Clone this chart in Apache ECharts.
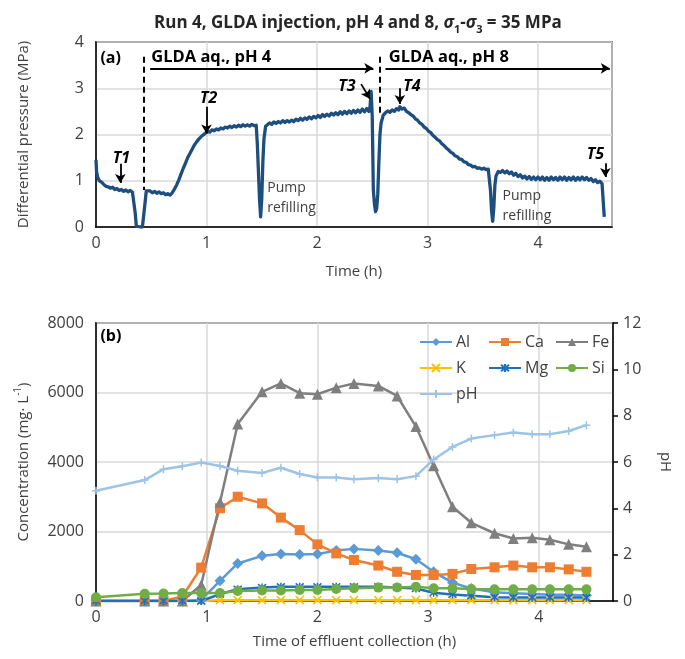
<!DOCTYPE html>
<html>
<head>
<meta charset="utf-8">
<script src="https://cdn.jsdelivr.net/npm/echarts@6/dist/echarts.min.js"></script>
<style>
  html, body { margin: 0; padding: 0; background: #fff; }
  #chart { width: 685px; height: 659px; }
</style>
</head>
<body>
<div id="chart"></div>
<script>
// ---- (a) differential pressure record ----
const pressureTime = [
  0.000, 0.005, 0.015, 0.03, 0.05, 0.07, 0.09, 0.11, 0.13, 0.15, 0.17, 0.19, 0.21, 0.23, 0.25, 0.27, 0.29, 0.31, 0.33, 0.345,
  0.355, 0.365, 0.38, 0.40, 0.42, 0.435, 0.445, 0.455, 0.47, 0.49, 0.51, 0.53, 0.55, 0.57, 0.59, 0.61, 0.63, 0.65, 0.67, 0.69,
  0.71, 0.73, 0.75, 0.77, 0.79, 0.81, 0.83, 0.85, 0.87, 0.89, 0.91, 0.93, 0.95, 0.97, 0.99, 1.01, 1.03, 1.05, 1.07, 1.09,
  1.11, 1.13, 1.15, 1.17, 1.19, 1.21, 1.23, 1.25, 1.27, 1.29, 1.31, 1.33, 1.35, 1.37, 1.39, 1.41, 1.43, 1.45, 1.46, 1.47,
  1.48, 1.49, 1.50, 1.51, 1.52, 1.535, 1.55, 1.57, 1.59, 1.61, 1.63, 1.65, 1.67, 1.69, 1.71, 1.73, 1.75, 1.77, 1.79, 1.81,
  1.83, 1.85, 1.87, 1.89, 1.91, 1.93, 1.95, 1.97, 1.99, 2.01, 2.03, 2.05, 2.07, 2.09, 2.11, 2.13, 2.15, 2.17, 2.19, 2.21,
  2.23, 2.25, 2.27, 2.29, 2.31, 2.33, 2.35, 2.37, 2.39, 2.41, 2.43, 2.45, 2.47, 2.48, 2.49, 2.50, 2.51, 2.52, 2.53, 2.54,
  2.55, 2.56, 2.57, 2.58, 2.60, 2.62, 2.64, 2.66, 2.68, 2.70, 2.72, 2.74, 2.75, 2.77, 2.79, 2.81, 2.83, 2.85, 2.87, 2.89,
  2.91, 2.93, 2.95, 2.97, 2.99, 3.01, 3.03, 3.05, 3.07, 3.09, 3.11, 3.13, 3.15, 3.17, 3.19, 3.21, 3.23, 3.25, 3.27, 3.29,
  3.31, 3.33, 3.35, 3.37, 3.39, 3.41, 3.43, 3.45, 3.47, 3.49, 3.51, 3.53, 3.55, 3.56, 3.57, 3.58, 3.59, 3.60, 3.61, 3.62,
  3.64, 3.66, 3.68, 3.70, 3.72, 3.74, 3.76, 3.78, 3.80, 3.82, 3.84, 3.86, 3.88, 3.90, 3.92, 3.94, 3.96, 3.98, 4.00, 4.02,
  4.04, 4.06, 4.08, 4.10, 4.12, 4.14, 4.16, 4.18, 4.20, 4.22, 4.24, 4.26, 4.28, 4.30, 4.32, 4.34, 4.36, 4.38, 4.40, 4.42,
  4.44, 4.46, 4.48, 4.50, 4.52, 4.54, 4.56, 4.58, 4.59, 4.60
];
const pressureMPa = [
  1.45, 1.20, 1.08, 1.00, 0.97, 0.92, 0.88, 0.87, 0.84, 0.86, 0.81, 0.83, 0.79, 0.81, 0.77, 0.80, 0.76, 0.79, 0.75, 0.77,
  0.30, 0.02, 0.00, 0.00, 0.00, 0.02, 0.55, 0.78, 0.74, 0.78, 0.74, 0.77, 0.73, 0.76, 0.72, 0.74, 0.70, 0.72, 0.69, 0.74,
  0.82, 0.91, 1.02, 1.15, 1.27, 1.38, 1.50, 1.59, 1.68, 1.77, 1.84, 1.90, 1.95, 1.99, 2.03, 2.06, 2.05, 2.10, 2.08, 2.12,
  2.10, 2.14, 2.12, 2.16, 2.14, 2.18, 2.15, 2.19, 2.16, 2.20, 2.17, 2.21, 2.18, 2.21, 2.18, 2.22, 2.19, 2.20, 1.80, 1.20,
  0.60, 0.22, 0.60, 1.40, 1.90, 2.18, 2.22, 2.25, 2.22, 2.27, 2.24, 2.28, 2.25, 2.30, 2.26, 2.30, 2.27, 2.31, 2.28, 2.33,
  2.30, 2.35, 2.31, 2.36, 2.33, 2.38, 2.34, 2.39, 2.36, 2.41, 2.37, 2.43, 2.39, 2.44, 2.40, 2.46, 2.42, 2.47, 2.43, 2.49,
  2.44, 2.50, 2.45, 2.51, 2.46, 2.52, 2.47, 2.53, 2.48, 2.55, 2.49, 2.56, 2.50, 2.60, 2.93, 2.40, 0.80, 0.50, 0.33, 0.40,
  0.70, 1.40, 2.00, 2.25, 2.42, 2.47, 2.51, 2.48, 2.53, 2.50, 2.56, 2.53, 2.60, 2.55, 2.57, 2.50, 2.47, 2.43, 2.40, 2.34,
  2.31, 2.25, 2.22, 2.16, 2.13, 2.07, 2.04, 1.98, 1.94, 1.89, 1.86, 1.80, 1.76, 1.71, 1.67, 1.62, 1.59, 1.54, 1.52, 1.47,
  1.46, 1.41, 1.40, 1.35, 1.34, 1.30, 1.31, 1.27, 1.28, 1.25, 1.27, 1.24, 1.25, 1.22, 0.80, 0.35, 0.12, 0.40, 0.90, 1.10,
  1.20, 1.18, 1.22, 1.17, 1.21, 1.15, 1.19, 1.12, 1.16, 1.09, 1.13, 1.06, 1.10, 1.04, 1.09, 1.03, 1.08, 1.02, 1.08, 1.02,
  1.08, 1.01, 1.07, 1.01, 1.08, 1.02, 1.07, 1.01, 1.08, 1.02, 1.08, 1.01, 1.07, 1.02, 1.08, 1.01, 1.07, 1.02, 1.08, 1.02,
  1.07, 1.01, 1.05, 0.98, 1.02, 0.96, 0.99, 0.94, 0.96, 0.22
];

// ---- (b) effluent composition ----
const sampleTime = [0, 0.44, 0.61, 0.78, 0.95, 1.12, 1.28, 1.50, 1.67, 1.84, 2.00, 2.17, 2.33,
                    2.55, 2.72, 2.89, 3.05, 3.22, 3.39, 3.60, 3.77, 3.94, 4.10, 4.27, 4.43];
const alConc = [0, 0, 0, 0, 30, 580, 1080, 1300, 1350, 1340, 1350, 1450, 1500,
                1450, 1390, 1200, 840, 530, 360, 250, 220, 200, 180, 180, 160];
const caConc = [0, 0, 0, 130, 960, 2670, 3000, 2810, 2400, 2040, 1630, 1370, 1180,
                1020, 840, 750, 750, 780, 920, 970, 1020, 970, 970, 910, 840];
const feConc = [0, 0, 0, 0, 460, 2840, 5090, 6020, 6260, 5980, 5950, 6140, 6260,
                6190, 5900, 5020, 3890, 2710, 2250, 1950, 1800, 1820, 1760, 1630, 1560];
const kConc  = [0, 0, 0, 0, 0, 25, 25, 25, 25, 25, 25, 25, 25,
                25, 25, 25, 25, 25, 25, 25, 25, 25, 25, 25, 25];
const mgConc = [0, 0, 0, 0, 0, 200, 340, 390, 410, 410, 410, 410, 410,
                410, 390, 360, 240, 190, 150, 110, 100, 100, 100, 100, 100];
const siConc = [110, 210, 215, 230, 230, 230, 290, 300, 300, 315, 315, 345, 365,
                385, 390, 410, 365, 365, 345, 335, 335, 335, 335, 335, 335];
const phValue = [4.76, 5.22, 5.69, 5.82, 5.98, 5.83, 5.62, 5.53, 5.75, 5.48, 5.33, 5.33, 5.26,
                 5.31, 5.26, 5.39, 6.11, 6.65, 7.01, 7.16, 7.27, 7.20, 7.20, 7.34, 7.59];

const concTicks = [0, 2000, 4000, 6000, 8000];
const phTicks = [0, 2, 4, 6, 8, 10, 12];
const pressureTicks = [0, 1, 2, 3, 4];
const timeTicks = [0, 1, 2, 3, 4];

const FONT = 'Open Sans';
const TXT = '#404040';
const GRIDLINE = '#d9d9d9';
const TICK_SIZE = 16;

const zip = (xs, ys) => xs.map((x, i) => [x, ys[i]]);

const chart = echarts.init(document.getElementById('chart'), null, { renderer: 'canvas' });

const xAxisBase = (gridIndex, name, gap) => ({
  type: 'value', gridIndex, min: timeTicks[0], max: 4.67, interval: 1,
  name, nameLocation: 'middle', nameGap: gap,
  nameTextStyle: { fontFamily: FONT, fontSize: 15, color: TXT },
  axisLine: { show: true, onZero: false, lineStyle: { color: '#000', width: 1.5 } },
  axisTick: { show: false },
  axisLabel: { fontFamily: FONT, fontSize: TICK_SIZE, color: TXT, margin: 8, showMaxLabel: false,
               formatter: v => (timeTicks.indexOf(v) >= 0 ? String(v) : '') },
  splitLine: { show: true, lineStyle: { color: GRIDLINE, width: 1.5 } }
});

const lineSeries = (name, values, color, symbol, size, extra) => Object.assign({
  name, type: 'line', xAxisIndex: 1, yAxisIndex: 1,
  data: zip(sampleTime, values),
  symbol, symbolSize: size, showSymbol: true,
  lineStyle: { color, width: 2.5 },
  itemStyle: { color },
  emphasis: { disabled: true }
}, extra || {});

const strokeSymbol = (color) => ({ color: 'rgba(0,0,0,0)', borderColor: color, borderWidth: 1.5 });

const SYM_X = 'path://M0,0L10,10M10,0L0,10';
const SYM_STAR = 'path://M0,0L10,10M10,0L0,10M5,-1L5,11';
const SYM_PLUS = 'path://M5,0L5,10M0,5L10,5';

const arrow = (a, b) => [
  { coord: a, symbol: 'none' },
  { coord: b, symbol: 'arrow', symbolSize: [8, 9] }
];
const dashed = (a, b) => [
  { coord: a, symbol: 'none', lineStyle: { type: [6, 4], width: 2, color: '#000' } },
  { coord: b, symbol: 'none' }
];

const legendItem = (name, left, top) => ({
  data: [name], left, top, itemWidth: 32, itemHeight: 10, itemGap: 0,
  textStyle: { fontFamily: FONT, fontSize: 16, color: TXT, padding: [0, 0, 0, -1] },
  selectedMode: false
});

const option = {
  animation: false,
  backgroundColor: '#fff',
  title: {
    left: 149, top: 6,
    text: '{b|Run 4, GLDA injection, pH 4 and 8, }{i|σ}{s|1}{b|-}{i|σ}{s|3}{b| = 35 MPa}',
    textStyle: {
      rich: {
        b: { fontFamily: FONT, fontSize: 17, fontWeight: 'bold', color: '#262626', lineHeight: 24, verticalAlign: 'middle' },
        i: { fontFamily: FONT, fontSize: 17, fontStyle: 'italic', color: '#262626', lineHeight: 24, verticalAlign: 'middle' },
        s: { fontFamily: FONT, fontSize: 11, fontWeight: 'bold', color: '#262626', lineHeight: 13, verticalAlign: 'bottom' }
      }
    }
  },
  grid: [
    { left: 96, right: 73, top: 42, height: 185, show: true, borderColor: '#000', borderWidth: 1.5, backgroundColor: 'transparent' },
    { left: 96, right: 72, top: 323, height: 278, show: true, borderColor: '#000', borderWidth: 1.5, backgroundColor: 'transparent' }
  ],
  xAxis: [
    xAxisBase(0, 'Time (h)', 37),
    xAxisBase(1, 'Time of effluent collection (h)', 33)
  ],
  yAxis: [
    {
      type: 'value', gridIndex: 0, min: pressureTicks[0], max: pressureTicks[pressureTicks.length - 1], interval: 1,
      name: 'Differential pressure (MPa)', nameLocation: 'middle', nameGap: 65,
      nameTextStyle: { fontFamily: FONT, fontSize: 15, color: TXT },
      axisLine: { show: true, lineStyle: { color: '#000', width: 1.5 } },
      axisTick: { show: false },
      axisLabel: { fontFamily: FONT, fontSize: TICK_SIZE, color: TXT, margin: 12 },
      splitLine: { show: true, lineStyle: { color: GRIDLINE, width: 1.5 } }
    },
    {
      type: 'value', gridIndex: 1, min: concTicks[0], max: concTicks[concTicks.length - 1], interval: 2000,
      name: 'Concentration (mg· L{sup|-1})', nameLocation: 'middle', nameGap: 61,
      nameTextStyle: { fontFamily: FONT, fontSize: 15, color: TXT,
        rich: { sup: { fontFamily: FONT, fontSize: 10, color: TXT, verticalAlign: 'top', lineHeight: 22 } } },
      axisLine: { show: true, lineStyle: { color: '#000', width: 1.5 } },
      axisTick: { show: false },
      axisLabel: { fontFamily: FONT, fontSize: TICK_SIZE, color: TXT, margin: 12, formatter: v => String(v) },
      splitLine: { show: true, lineStyle: { color: GRIDLINE, width: 1.5 } }
    },
    {
      type: 'value', gridIndex: 1, position: 'right', min: phTicks[0], max: phTicks[phTicks.length - 1], interval: 2,
      name: 'pH', nameLocation: 'middle', nameGap: 45, nameRotate: -90,
      nameTextStyle: { fontFamily: FONT, fontSize: 15, color: TXT },
      axisLine: { show: true, lineStyle: { color: '#000', width: 1.5 } },
      axisTick: { show: true, inside: false, length: 5, lineStyle: { color: '#000', width: 1.5 } },
      axisLabel: { fontFamily: FONT, fontSize: TICK_SIZE, color: TXT, margin: 10 },
      splitLine: { show: false }
    }
  ],
  legend: [
    legendItem('Al', 414, 329), legendItem('Ca', 483, 329), legendItem('Fe', 550, 329),
    legendItem('K', 414, 355), legendItem('Mg', 483, 355), legendItem('Si', 550, 355),
    legendItem('pH', 414, 381)
  ],
  series: [
    {
      name: 'Differential pressure', type: 'line', xAxisIndex: 0, yAxisIndex: 0,
      data: zip(pressureTime, pressureMPa),
      showSymbol: false, symbol: 'none',
      lineStyle: { color: '#1d4e7d', width: 3.3, join: 'round' },
      emphasis: { disabled: true },
      markLine: {
        silent: true, animation: false,
        label: { show: false },
        lineStyle: { color: '#000', width: 1.8, type: 'solid' },
        emphasis: { disabled: true },
        data: [
          dashed([0.434, 3.68], [0.434, 0.80]),
          dashed([2.564, 3.68], [2.564, 2.45]),
          arrow([0.49, 3.43], [2.51, 3.43]),
          arrow([2.62, 3.43], [4.65, 3.43]),
          arrow([0.22, 1.37], [0.22, 0.95]),
          arrow([1.00, 2.60], [1.00, 2.02]),
          arrow([2.40, 3.09], [2.48, 2.77]),
          arrow([2.75, 3.00], [2.75, 2.66]),
          arrow([4.61, 1.38], [4.61, 1.08])
        ]
      }
    },
    lineSeries('Al', alConc, '#5b9bd5', 'diamond', 11),
    lineSeries('Ca', caConc, '#ed7d31', 'rect', 10),
    lineSeries('Fe', feConc, '#7f7f7f', 'triangle', 11),
    lineSeries('K', kConc, '#ffc000', SYM_X, 8, { itemStyle: strokeSymbol('#ffc000') }),
    lineSeries('Mg', mgConc, '#1f6fbf', SYM_STAR, 8, { itemStyle: strokeSymbol('#1f6fbf') }),
    lineSeries('Si', siConc, '#70ad47', 'circle', 10),
    lineSeries('pH', phValue, '#9dc3e6', SYM_PLUS, 8, { yAxisIndex: 2, itemStyle: strokeSymbol('#9dc3e6') })
  ]
};

chart.setOption(option);

// Text annotations, anchored in data coordinates of each panel
const at = (panel, t, v) => chart.convertToPixel({ xAxisIndex: panel, yAxisIndex: panel }, [t, v]);
const note = (panel, t, v, text, style) => {
  const p = at(panel, t, v);
  return {
    type: 'text', x: p[0], y: p[1], silent: true, z: 100,
    style: Object.assign({ text, fontFamily: FONT, fontSize: 16, fill: '#000',
                           align: 'center', verticalAlign: 'middle' }, style)
  };
};
const tag = { fontWeight: 'bold', fontStyle: 'italic', fontSize: 16 };

chart.setOption({
  graphic: [
    note(0, 0.04, 3.65, '(a)', { fontWeight: 'bold', align: 'left' }),
    note(0, 0.50, 3.68, 'GLDA aq., pH 4', { fontWeight: 'bold', align: 'left', fontSize: 16.5 }),
    note(0, 2.65, 3.68, 'GLDA aq., pH 8', { fontWeight: 'bold', align: 'left', fontSize: 16.5 }),
    note(0, 0.23, 1.48, 'T1', tag),
    note(0, 1.02, 2.79, 'T2', tag),
    note(0, 2.27, 3.04, 'T3', tag),
    note(0, 2.86, 3.04, 'T4', tag),
    note(0, 4.52, 1.57, 'T5', tag),
    note(0, 1.55, 0.62, 'Pump\nrefilling', { align: 'left', fontSize: 14, lineHeight: 20, fill: '#404040' }),
    note(0, 3.68, 0.45, 'Pump\nrefilling', { align: 'left', fontSize: 14, lineHeight: 20, fill: '#404040' }),
    note(1, 0.04, 7620, '(b)', { fontWeight: 'bold', align: 'left' })
  ]
});
</script>
</body>
</html>
